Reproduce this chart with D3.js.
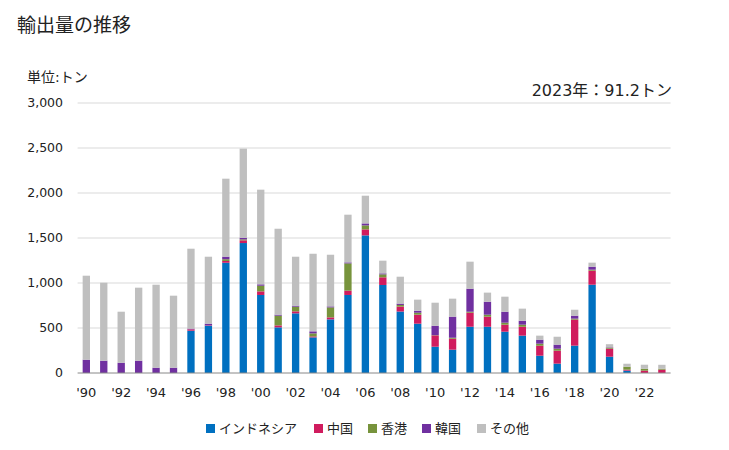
<!DOCTYPE html>
<html>
<head>
<meta charset="utf-8">
<script src="https://cdn.jsdelivr.net/npm/d3@7"></script>
<style>
body { margin: 0; background: #fff; }
text { font-family: "DejaVu Sans", "Noto Sans CJK JP", sans-serif; fill: #222; }
</style>
</head>
<body>
<div id="chart"></div>
<script>
const years = d3.range(1990, 2024)
const series = ["インドネシア", "中国", "香港", "韓国", "その他"]
const colors = ["#0070c0", "#d01c5e", "#77933c", "#7030a0", "#bfbfbf"]

// values per year, tonnes
const indonesia = [0, 0, 0, 0, 0, 0, 470, 525, 1225, 1444, 867, 507, 663, 396, 596, 867, 1529, 978,
    683, 548, 292, 259, 514, 514, 459, 415, 192, 104, 304, 981, 181, 26, 0, 0]
const china = [0, 0, 0, 0, 0, 0, 15, 5, 20, 30, 40, 22, 22, 11, 22, 48, 67, 85,
    55, 100, 126, 122, 156, 112, 78, 99, 111, 144, 289, 156, 89, 11, 26, 37]
const hongkong = [0, 0, 0, 0, 0, 0, 0, 0, 19, 11, 63, 108, 52, 33, 111, 303, 44, 33,
    18, 22, 3, 11, 11, 22, 22, 23, 23, 22, 11, 11, 11, 33, 22, 11]
const korea = [148, 137, 114, 137, 59, 59, 8, 18, 29, 18, 15, 11, 11, 23, 11, 11, 22, 11,
    15, 22, 104, 234, 256, 144, 122, 44, 44, 45, 33, 33, 5, 0, 0, 0]
const others = [933, 866, 567, 811, 922, 800, 888, 744, 866, 990, 1052, 955, 544, 862, 574, 530, 308, 141,
    299, 123, 256, 200, 300, 101, 167, 134, 45, 88, 66, 45, 34, 33, 44, 43.2]

const yTicks = [0, 500, 1000, 1500, 2000, 2500, 3000]
const xLabels = d3.range(1990, 2024, 2)

const width = 729, height = 450
const margin = { top: 103, bottom: 77, left: 77.6, right: 58.4 }

const table = years.map((yr, i) => ({
    year: yr,
    "インドネシア": indonesia[i],
    "中国": china[i],
    "香港": hongkong[i],
    "韓国": korea[i],
    "その他": others[i]
}))
const stacked = d3.stack().keys(series)(table)

const svg = d3.select("#chart").append("svg")
    .attr("width", width).attr("height", height)

const x = d3.scaleBand()
    .domain(years)
    .range([margin.left, width - margin.right])
    .paddingInner(0.58)
    .paddingOuter(0.29)
const y = d3.scaleLinear()
    .domain([0, 3000])
    .range([height - margin.bottom, margin.top])

// title and notes
svg.append("text").attr("x", 17).attr("y", 32)
    .style("font-size", "19px").text("輸出量の推移")
svg.append("text").attr("x", 27).attr("y", 82)
    .style("font-size", "14px").text("単位:トン")
svg.append("text").attr("x", 672).attr("y", 96)
    .attr("text-anchor", "end")
    .style("font-size", "16px").text("2023年：91.2トン")

// grid
svg.append("g").selectAll("line")
    .data(yTicks.filter(d => d > 0)).enter()
    .append("line")
    .attr("x1", margin.left).attr("x2", width - margin.right)
    .attr("y1", d => y(d)).attr("y2", d => y(d))
    .style("stroke", "#d9d9d9").style("stroke-width", 1)

svg.append("g").selectAll("text")
    .data(yTicks).enter()
    .append("text")
    .attr("x", 63).attr("y", d => y(d) + 4)
    .attr("text-anchor", "end")
    .style("font-size", "12.5px")
    .text(d => d3.format(",")(d))

// bars
svg.append("g").selectAll("g")
    .data(stacked).enter()
    .append("g")
    .style("fill", (d, i) => colors[i])
    .selectAll("rect")
    .data(d => d).enter()
    .append("rect")
    .attr("x", d => x(d.data.year))
    .attr("width", x.bandwidth())
    .attr("y", d => y(d[1]))
    .attr("height", d => y(d[0]) - y(d[1]))

// baseline
svg.append("line")
    .attr("x1", margin.left).attr("x2", width - margin.right)
    .attr("y1", y(0)).attr("y2", y(0))
    .style("stroke", "#888").style("stroke-width", 1)

svg.append("g").selectAll("text")
    .data(xLabels).enter()
    .append("text")
    .attr("x", d => x(d) + x.bandwidth() / 2)
    .attr("y", 397)
    .attr("text-anchor", "middle")
    .style("font-size", "13px")
    .text(d => "'" + String(d).slice(2))

// legend
const legendX = [206, 314, 368, 422, 477]
const legend = svg.append("g").selectAll("g")
    .data(series).enter()
    .append("g")
    .attr("transform", (d, i) => `translate(${legendX[i]},424)`)
legend.append("rect")
    .attr("width", 9).attr("height", 9)
    .style("fill", (d, i) => colors[i])
legend.append("text")
    .attr("x", 13).attr("y", 9)
    .style("font-size", "13px")
    .text(d => d)
</script>
</body>
</html>
